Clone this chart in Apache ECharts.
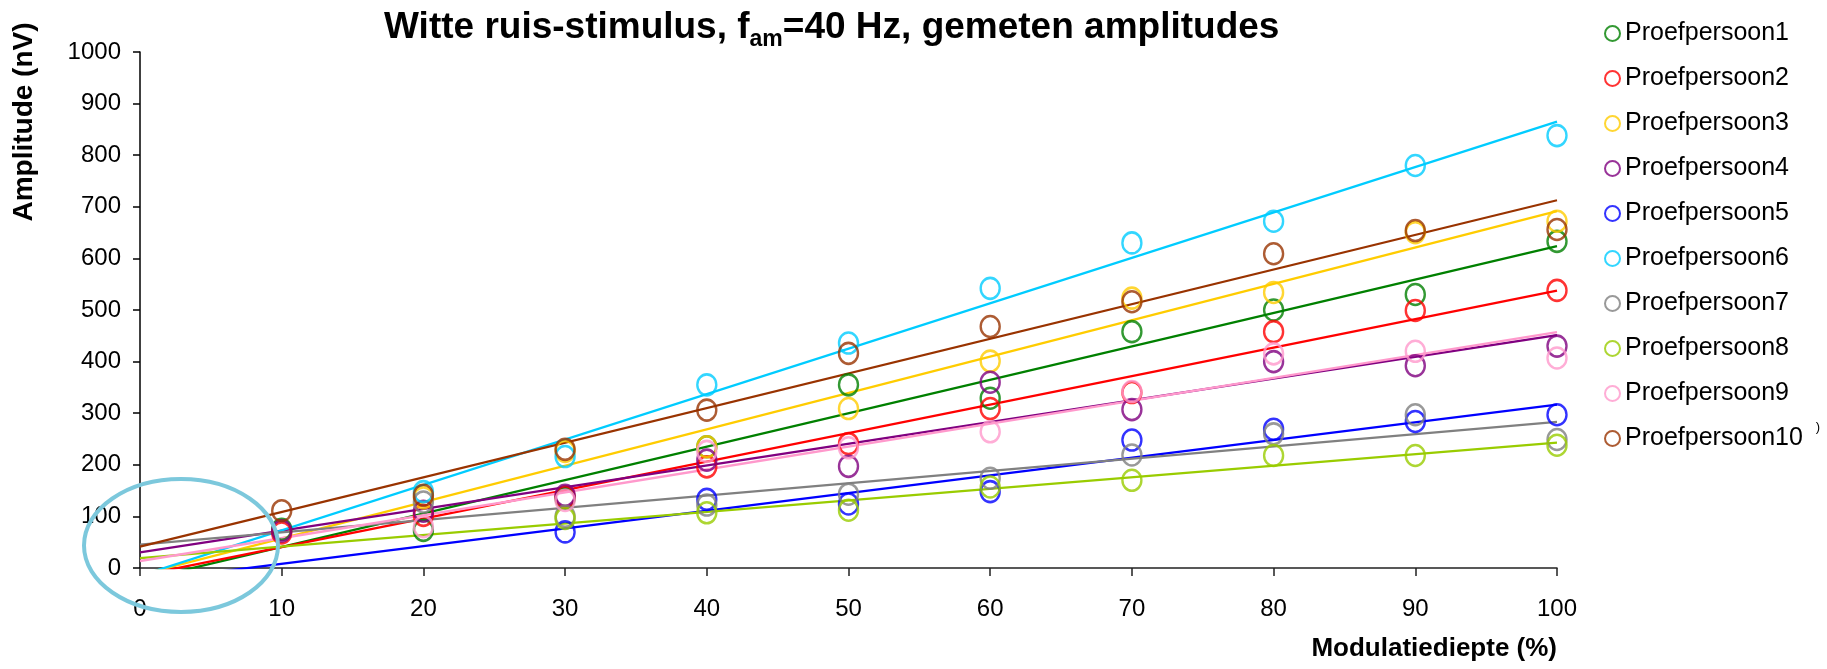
<!DOCTYPE html>
<html>
<head>
<meta charset="utf-8">
<title>Witte ruis-stimulus</title>
<script src="https://cdn.jsdelivr.net/npm/echarts@6/dist/echarts.min.js"></script>
<style>
  html, body { margin: 0; padding: 0; background: #fff; }
  #chart { width: 1827px; height: 669px; }
</style>
</head>
<body>
<div id="chart"></div>
<script>
// modulatiediepte (%)
const modulatie = [10, 20, 30, 40, 50, 60, 70, 80, 90, 100]

// gemeten amplitudes (nV) per proefpersoon, null = geen meting
const proef1 = [75, 73, 135, 235, 355, 329, 458, 500, 530, 633]
const proef2 = [68, 102, 138, 196, 241, 309, 340, 458, 499, 538]
const proef3 = [null, 136, 226, 235, 309, 401, 523, 534, 650, 672]
const proef4 = [72, 110, 141, 209, 197, 360, 307, 400, 392, 430]
const proef5 = [null, null, 70, 133, 124, 148, 248, 269, 284, 297]
const proef6 = [null, 148, 216, 355, 436, 542, 630, 672, 780, 838]
const proef7 = [null, 128, 100, 122, 143, 174, 219, 260, 297, 249]
const proef8 = [null, null, 96, 107, 112, 157, 170, 218, 218, 238]
const proef9 = [null, 80, 131, 226, 233, 264, 342, 415, 420, 407]
const proef10 = [111, 141, 230, 306, 416, 468, 516, 609, 654, 656]

const namen = ['Proefpersoon1', 'Proefpersoon2', 'Proefpersoon3', 'Proefpersoon4', 'Proefpersoon5',
  'Proefpersoon6', 'Proefpersoon7', 'Proefpersoon8', 'Proefpersoon9', 'Proefpersoon10']
const reeksen = [proef1, proef2, proef3, proef4, proef5, proef6, proef7, proef8, proef9, proef10]
const kleuren = ['#008000', '#ff0000', '#ffcc00', '#800080', '#0000ff',
  '#00ccff', '#808080', '#99cc00', '#ff99cc', '#993300']

const xTicks = { min: 0, max: 100, interval: 10 }
const yTicks = { min: 0, max: 1000, interval: 100 }

const FONT = '"Liberation Sans", Arial, Helvetica, sans-serif'

// lineaire trendlijn (kleinste kwadraten), getekend van x=0 tot x=100
function trend(ys) {
  const pts = modulatie.map((x, i) => [x, ys[i]]).filter(p => p[1] != null)
  const n = pts.length
  const mx = pts.reduce((s, p) => s + p[0], 0) / n
  const my = pts.reduce((s, p) => s + p[1], 0) / n
  let sxy = 0
  let sxx = 0
  pts.forEach(p => {
    sxy += (p[0] - mx) * (p[1] - my)
    sxx += (p[0] - mx) * (p[0] - mx)
  })
  const m = sxy / sxx
  const b = my - m * mx
  return [[xTicks.min, b], [xTicks.max, b + m * xTicks.max]]
}

const scatterSeries = reeksen.map((ys, i) => ({
  name: namen[i],
  type: 'scatter',
  symbol: 'circle',
  symbolSize: [19, 21],
  data: modulatie.map((x, j) => [x, ys[j]]).filter(p => p[1] != null),
  itemStyle: {
    color: 'transparent',
    borderColor: kleuren[i],
    borderWidth: 2.5
  },
  z: 3
}))

const lineSeries = reeksen.map((ys, i) => ({
  name: 'trend' + (i + 1),
  type: 'line',
  data: trend(ys),
  showSymbol: false,
  clip: true,
  silent: true,
  lineStyle: {
    color: kleuren[i],
    width: 2.3
  },
  z: 2
}))

const myChart = echarts.init(document.getElementById('chart'), null, { renderer: 'canvas' })
myChart.setOption({
  animation: false,
  backgroundColor: '#fff',
  title: {
    text: '{a|Witte ruis-stimulus, f}{s|am}{a|=40 Hz, gemeten amplitudes}',
    left: 384,
    top: 9,
    padding: 0,
    textStyle: {
      rich: {
        a: {
          fontFamily: FONT,
          fontSize: 37,
          fontWeight: 'bold',
          color: '#000',
          lineHeight: 42,
          verticalAlign: 'top'
        },
        s: {
          fontFamily: FONT,
          fontSize: 23,
          fontWeight: 'bold',
          color: '#000',
          lineHeight: 24,
          verticalAlign: 'bottom',
          padding: [25, 0, 0, 0]
        }
      }
    }
  },
  legend: {
    orient: 'vertical',
    left: 1604,
    top: 21,
    itemWidth: 15,
    itemHeight: 15,
    itemGap: 20,
    itemTextGap: 7,
    padding: 0,
    textStyle: {
      fontFamily: FONT,
      fontSize: 25,
      lineHeight: 25,
      color: '#000'
    },
    data: namen.map((n, i) => ({
      name: n,
      icon: 'circle',
      itemStyle: { color: 'transparent', borderColor: kleuren[i], borderWidth: 2 }
    }))
  },
  grid: {
    left: 140,
    right: 270,
    top: 52,
    bottom: 101
  },
  xAxis: {
    type: 'value',
    min: xTicks.min,
    max: xTicks.max,
    interval: xTicks.interval,
    axisLine: { lineStyle: { color: '#222', width: 1.5 } },
    axisTick: { show: true, inside: false, length: 8, lineStyle: { color: '#222', width: 1.5 } },
    axisLabel: { margin: 29, fontFamily: FONT, fontSize: 24, color: '#000' },
    splitLine: { show: false }
  },
  yAxis: {
    type: 'value',
    min: yTicks.min,
    max: yTicks.max,
    interval: yTicks.interval,
    axisLine: { show: true, lineStyle: { color: '#000', width: 1.5 } },
    axisTick: { show: true, inside: false, length: 7, lineStyle: { color: '#000', width: 1.5 } },
    axisLabel: {
      margin: 19,
      fontFamily: FONT,
      fontSize: 24,
      color: '#000',
      formatter: v => String(v)
    },
    splitLine: { show: false }
  },
  graphic: [
    {
      type: 'text',
      x: 24,
      y: 122,
      rotation: Math.PI / 2,
      style: {
        text: 'Amplitude (nV)',
        font: 'bold 28px ' + FONT,
        fill: '#000',
        align: 'center',
        verticalAlign: 'middle'
      }
    },
    {
      type: 'text',
      x: 1557,
      y: 649,
      style: {
        text: 'Modulatiediepte (%)',
        font: 'bold 26px ' + FONT,
        fill: '#000',
        align: 'right',
        verticalAlign: 'middle'
      }
    },
    {
      type: 'text',
      x: 1818,
      y: 427,
      style: {
        text: ')',
        font: '13px ' + FONT,
        fill: '#000',
        align: 'center',
        verticalAlign: 'middle'
      }
    },
    {
      // markering rond de oorsprong
      type: 'ellipse',
      shape: { cx: 181, cy: 545.5, rx: 97, ry: 66.5 },
      style: { fill: null, stroke: '#7cc8dc', lineWidth: 4 },
      z: 100
    }
  ],
  series: [...scatterSeries, ...lineSeries]
})
</script>
</body>
</html>
